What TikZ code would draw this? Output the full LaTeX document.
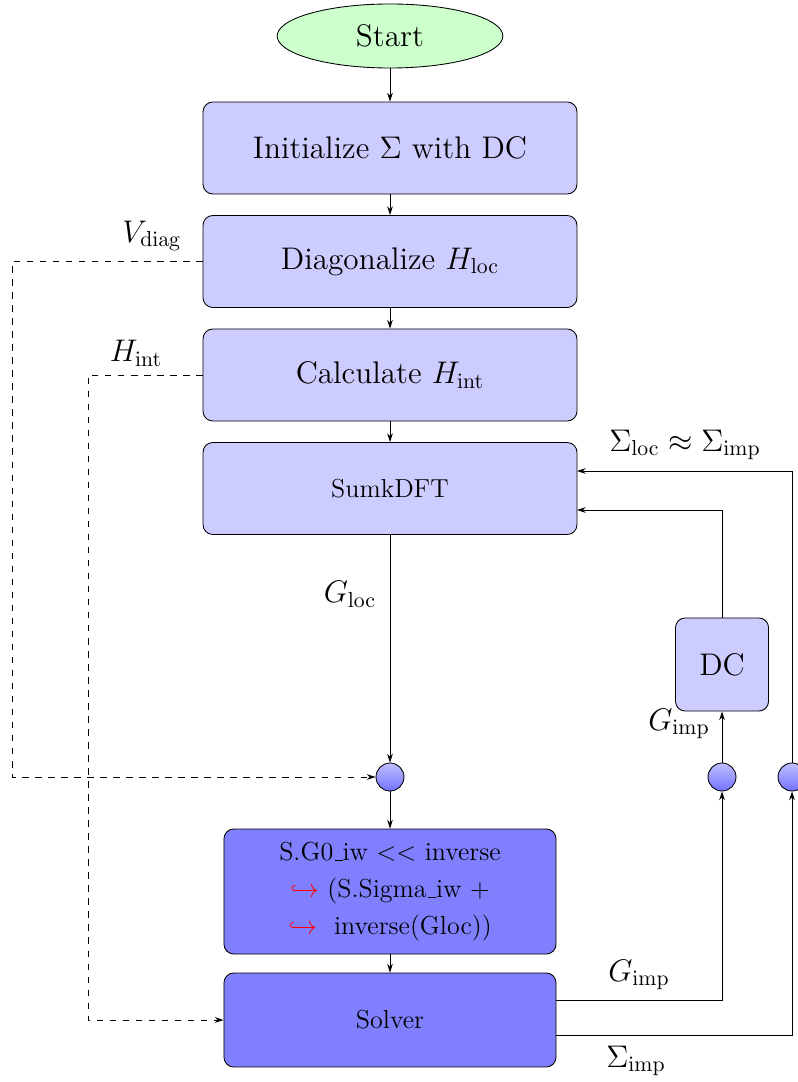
\documentclass[tikz,border=0pt]{standalone}
\usetikzlibrary{shapes.geometric,arrows.meta}
\newcommand\myus{\leavevmode\kern.06em\vbox{\hrule width.3em}}
\begin{document}
\begin{tikzpicture}[x=0.4608pt,y=-0.4608pt,
  every node/.style={inner sep=0pt},
  startbox/.style={ellipse,draw,thin,fill=green!20,minimum width=104pt,minimum height=29.5pt,font=\Large},
  procbox/.style={rectangle,draw,thin,rounded corners=4.5pt,fill=blue!20,minimum width=172.3pt,minimum height=42.4pt,font=\Large},
  darkbox/.style={rectangle,draw,thin,rounded corners=4.5pt,fill=blue!50,minimum width=153pt,font=\large},
  junction/.style={circle,draw,thin,top color=blue!25,bottom color=blue!55,minimum size=12.9pt},
  lbl/.style={font=\Large},
  arr/.style={thin,-{Stealth[length=4pt,width=2.6pt]}},
  darr/.style={thin,dashed,-{Stealth[length=4pt,width=2.6pt]}}]
\useasboundingbox (0,0) rectangle (798,1082);

\node[startbox] (start) at (390,36) {Start};
\node[procbox] (init) at (390,148) {Initialize $\Sigma$ with DC};
\node[procbox] (diag) at (390,261.5) {Diagonalize $H_{\mathrm{loc}}$};
\node[procbox] (calc) at (390,375) {Calculate $H_{\mathrm{int}}$};
\node[procbox,font=\large] (sumk) at (390,488.5) {SumkDFT};
\node[procbox,minimum width=42.9pt,minimum height=42.9pt] (dc) at (722,664.5) {DC};
\node[junction] (j1) at (390,777) {};
\node[junction] (j2) at (722,777) {};
\node[junction] (j3) at (792,777) {};
\node[darkbox,minimum height=57.6pt,align=center] (g0) at (390,891.5)
  {S.G0\myus iw $<<$ inverse\\[3pt]
   {\color{red}$\hookrightarrow$} (S.Sigma\myus iw $+$\\[3pt]
   {\color{red}$\hookrightarrow$}\ \ inverse(Gloc))};
\node[darkbox,minimum height=43.3pt] (solver) at (390,1020) {Solver};

% main flow
\draw[arr] (start) -- (init);
\draw[arr] (init) -- (diag);
\draw[arr] (diag) -- (calc);
\draw[arr] (calc) -- (sumk);
\draw[arr] (sumk) -- (j1);
\draw[arr] (j1) -- (g0);
\draw[arr] (g0) -- (solver);

% dashed side paths
\coordinate (dA) at (12,261.5);
\coordinate (dB) at (12,777);
\draw[darr] (diag.west) -- (dA) -- (dB) -- (j1.west);
\coordinate (hA) at (88,375);
\coordinate (hB) at (88,1020);
\draw[darr] (calc.west) -- (hA) -- (hB) -- (solver.west);

% solver outputs
\coordinate (sG) at (556,1000);
\coordinate (sGc) at (722,1000);
\draw[arr] (sG) -- (sGc) -- (j2.south);
\coordinate (sS) at (556,1035);
\coordinate (sSc) at (792,1035);
\draw[arr] (sS) -- (sSc) -- (j3.south);

\draw[arr] (j2) -- (dc);
\coordinate (dcA) at (722,510);
\coordinate (sumkA) at (577,510);
\draw[arr] (dc.north) -- (dcA) -- (sumkA);
\coordinate (j3A) at (792,471);
\coordinate (sumkB) at (577,471);
\draw[arr] (j3.north) -- (j3A) -- (sumkB);

% labels
\node[lbl] (lv) at (152,236) {$V_{\mathrm{diag}}$};
\node[lbl] (lh) at (136,353) {$H_{\mathrm{int}}$};
\node[lbl] (lgloc) at (350,594) {$G_{\mathrm{loc}}$};
\node[lbl] (lgimp1) at (679,724) {$G_{\mathrm{imp}}$};
\node[lbl] (lgimp2) at (639,975) {$G_{\mathrm{imp}}$};
\node[lbl] (lsimp) at (636,1061) {$\Sigma_{\mathrm{imp}}$};
\node[lbl] (lsloc) at (685,445) {$\Sigma_{\mathrm{loc}}\approx\Sigma_{\mathrm{imp}}$};
\end{tikzpicture}
\end{document}
